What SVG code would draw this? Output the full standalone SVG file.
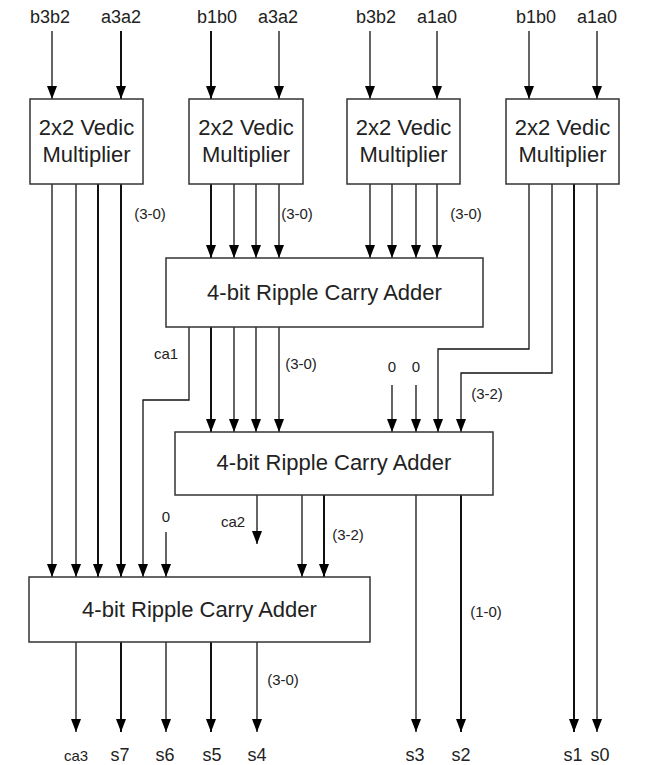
<svg xmlns="http://www.w3.org/2000/svg" width="666" height="765" viewBox="0 0 666 765">
<style>
.box{fill:#fff;stroke:#333;stroke-width:1.5}
.w{fill:none;stroke:#111;stroke-width:1.3}
.t{stroke-width:2}
.big{font-family:"Liberation Sans",Arial,sans-serif;font-size:22px;fill:#222;text-anchor:middle}
.lbl{font-family:"Liberation Sans",Arial,sans-serif;font-size:18px;fill:#222;text-anchor:middle}
.sm{font-family:"Liberation Sans",Arial,sans-serif;font-size:15px;fill:#222;text-anchor:middle}
</style>
<defs>
<marker id="ah" viewBox="0 0 13 10" refX="13" refY="5" markerWidth="13" markerHeight="10" markerUnits="userSpaceOnUse" orient="auto">
<path d="M0,0 L13,5 L0,10 z" fill="#000"/>
</marker>
</defs>
<rect width="666" height="765" fill="#fff"/>
<g id="connectors">
<!-- inputs -->
<line class="w" x1="52" y1="31" x2="52" y2="99" marker-end="url(#ah)"/>
<line class="w t" x1="121" y1="31" x2="121" y2="99" marker-end="url(#ah)"/>
<line class="w t" x1="211" y1="31" x2="211" y2="99" marker-end="url(#ah)"/>
<line class="w" x1="279" y1="31" x2="279" y2="99" marker-end="url(#ah)"/>
<line class="w" x1="370" y1="31" x2="370" y2="99" marker-end="url(#ah)"/>
<line class="w" x1="437" y1="31" x2="437" y2="99" marker-end="url(#ah)"/>
<line class="w" x1="529" y1="31" x2="529" y2="99" marker-end="url(#ah)"/>
<line class="w" x1="597" y1="31" x2="597" y2="99" marker-end="url(#ah)"/>
<!-- mult1 outputs to bottom adder -->
<line class="w" x1="52" y1="184" x2="52" y2="577" marker-end="url(#ah)"/>
<line class="w" x1="76" y1="184" x2="76" y2="577" marker-end="url(#ah)"/>
<line class="w t" x1="98" y1="184" x2="98" y2="577" marker-end="url(#ah)"/>
<line class="w t" x1="121" y1="184" x2="121" y2="577" marker-end="url(#ah)"/>
<!-- mult2 outputs to adder1 -->
<line class="w t" x1="211" y1="184" x2="211" y2="258" marker-end="url(#ah)"/>
<line class="w" x1="234" y1="184" x2="234" y2="258" marker-end="url(#ah)"/>
<line class="w" x1="256" y1="184" x2="256" y2="258" marker-end="url(#ah)"/>
<line class="w" x1="279" y1="184" x2="279" y2="258" marker-end="url(#ah)"/>
<!-- mult3 outputs to adder1 -->
<line class="w" x1="370" y1="184" x2="370" y2="258" marker-end="url(#ah)"/>
<line class="w" x1="392" y1="184" x2="392" y2="258" marker-end="url(#ah)"/>
<line class="w" x1="416" y1="184" x2="416" y2="258" marker-end="url(#ah)"/>
<line class="w" x1="437" y1="184" x2="437" y2="258" marker-end="url(#ah)"/>
<!-- mult4 outputs -->
<polyline class="w" points="529,184 529,349 438,349 438,432" marker-end="url(#ah)"/>
<polyline class="w" points="552,184 552,373 461,373 461,432" marker-end="url(#ah)"/>
<line class="w t" x1="574" y1="184" x2="574" y2="732" marker-end="url(#ah)"/>
<line class="w" x1="597" y1="184" x2="597" y2="732" marker-end="url(#ah)"/>
<!-- adder1 outputs -->
<polyline class="w" points="189,327 189,400 143,400 143,577" marker-end="url(#ah)"/>
<line class="w t" x1="211" y1="327" x2="211" y2="432" marker-end="url(#ah)"/>
<line class="w" x1="234" y1="327" x2="234" y2="432" marker-end="url(#ah)"/>
<line class="w" x1="256" y1="327" x2="256" y2="432" marker-end="url(#ah)"/>
<line class="w" x1="279" y1="327" x2="279" y2="432" marker-end="url(#ah)"/>
<!-- zero inputs adder2 -->
<line class="w" x1="392" y1="385" x2="392" y2="432" marker-end="url(#ah)"/>
<line class="w" x1="416" y1="385" x2="416" y2="432" marker-end="url(#ah)"/>
<!-- adder2 outputs -->
<line class="w" x1="257" y1="495" x2="257" y2="544" marker-end="url(#ah)"/>
<line class="w" x1="302" y1="495" x2="302" y2="577" marker-end="url(#ah)"/>
<line class="w t" x1="324" y1="495" x2="324" y2="577" marker-end="url(#ah)"/>
<line class="w" x1="416" y1="495" x2="416" y2="732" marker-end="url(#ah)"/>
<line class="w t" x1="461" y1="495" x2="461" y2="732" marker-end="url(#ah)"/>
<!-- zero input bottom adder -->
<line class="w" x1="166" y1="532" x2="166" y2="577" marker-end="url(#ah)"/>
<!-- bottom adder outputs -->
<line class="w" x1="76" y1="642" x2="76" y2="732" marker-end="url(#ah)"/>
<line class="w t" x1="121" y1="642" x2="121" y2="732" marker-end="url(#ah)"/>
<line class="w" x1="166" y1="642" x2="166" y2="732" marker-end="url(#ah)"/>
<line class="w t" x1="211" y1="642" x2="211" y2="732" marker-end="url(#ah)"/>
<line class="w" x1="257" y1="642" x2="257" y2="732" marker-end="url(#ah)"/>
</g>
<g id="mult1"><rect class="box" x="30" y="99" width="113" height="85"/><text class="big" x="86.5" y="135">2x2 Vedic</text><text class="big" x="86.5" y="162">Multiplier</text></g>
<g id="mult2"><rect class="box" x="189" y="99" width="114" height="85"/><text class="big" x="246" y="135">2x2 Vedic</text><text class="big" x="246" y="162">Multiplier</text></g>
<g id="mult3"><rect class="box" x="347" y="99" width="113" height="85"/><text class="big" x="403.5" y="135">2x2 Vedic</text><text class="big" x="403.5" y="162">Multiplier</text></g>
<g id="mult4"><rect class="box" x="506" y="99" width="113" height="85"/><text class="big" x="562.5" y="135">2x2 Vedic</text><text class="big" x="562.5" y="162">Multiplier</text></g>
<g id="adder1"><rect class="box" x="166" y="258" width="317" height="69"/><text class="big" x="324.5" y="300">4-bit Ripple Carry Adder</text></g>
<g id="adder2"><rect class="box" x="175" y="432" width="318" height="63"/><text class="big" x="334" y="470">4-bit Ripple Carry Adder</text></g>
<g id="adder3"><rect class="box" x="29" y="577" width="341" height="65"/><text class="big" x="199.5" y="617">4-bit Ripple Carry Adder</text></g>
<g id="labels">
<text class="lbl" x="50" y="23">b3b2</text>
<text class="lbl" x="121" y="23">a3a2</text>
<text class="lbl" x="217" y="23">b1b0</text>
<text class="lbl" x="278" y="23">a3a2</text>
<text class="lbl" x="376" y="23">b3b2</text>
<text class="lbl" x="437" y="23">a1a0</text>
<text class="lbl" x="536" y="23">b1b0</text>
<text class="lbl" x="597" y="23">a1a0</text>
<text class="sm" x="150" y="219">(3-0)</text>
<text class="sm" x="297" y="219">(3-0)</text>
<text class="sm" x="466" y="219">(3-0)</text>
<text class="sm" x="166" y="359">ca1</text>
<text class="sm" x="301" y="369">(3-0)</text>
<text class="sm" x="392" y="372">0</text>
<text class="sm" x="416" y="372">0</text>
<text class="sm" x="487" y="399">(3-2)</text>
<text class="sm" x="166" y="522">0</text>
<text class="sm" x="233" y="527">ca2</text>
<text class="sm" x="348" y="540">(3-2)</text>
<text class="sm" x="486" y="617">(1-0)</text>
<text class="sm" x="283" y="685">(3-0)</text>
<text class="sm" x="76" y="761">ca3</text>
<text class="lbl" x="120" y="761">s7</text>
<text class="lbl" x="165" y="761">s6</text>
<text class="lbl" x="212" y="761">s5</text>
<text class="lbl" x="257" y="761">s4</text>
<text class="lbl" x="415" y="761">s3</text>
<text class="lbl" x="461" y="761">s2</text>
<text class="lbl" x="573" y="761">s1</text>
<text class="lbl" x="600" y="761">s0</text>
</g>
</svg>
